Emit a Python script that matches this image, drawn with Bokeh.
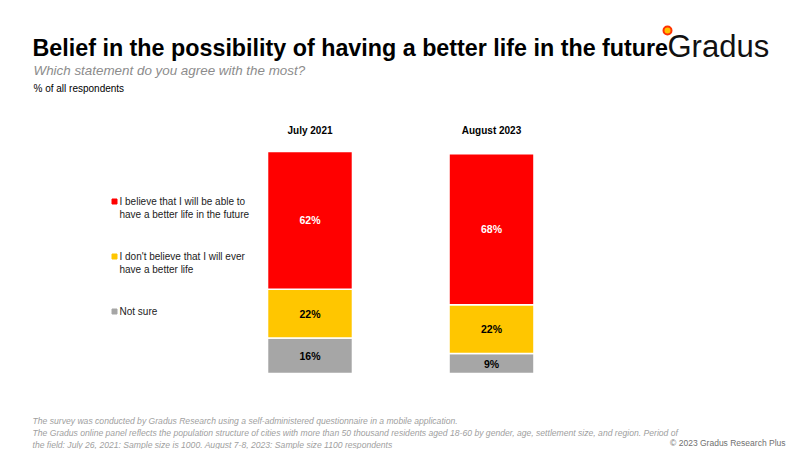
from bokeh.core.properties import value
from bokeh.embed import file_html
from bokeh.models import ColumnDataSource, Label, Range1d
from bokeh.plotting import figure
from bokeh.resources import INLINE

periods = ["July 2021", "August 2023"]
answers = [
    "I believe that I will be able to have a better life in the future",
    "I don't believe that I will ever have a better life",
    "Not sure",
]
legend_lines = [
    ["I believe that I will be able to", "have a better life in the future"],
    ["I don't believe that I will ever", "have a better life"],
    ["Not sure"],
]
# stacked from the bottom: not sure, don't believe, believe
not_sure = [16, 9]
dont_believe = [22, 22]
believe = [62, 68]
colors = ["#A6A6A6", "#FFC600", "#FF0000"]

FONT = "Liberation Sans"
W, H = 800, 449

# pixel -> data helpers (bar 0 centre at x 309.5, 181.5 px between bars,
# value 0 at y 373, 2.22 px per percent)
XU, X0 = 181.5, 309.5
YU, Y0 = 2.22, 373


def px(x):
    return (x - X0) / XU


def py(y):
    return (Y0 - y) / YU


p = figure(
    width=W,
    height=H,
    x_range=Range1d(-X0 / XU, (W - X0) / XU),
    y_range=Range1d(-(H - Y0) / YU, Y0 / YU),
    min_border=0,
    outline_line_color=None,
    toolbar_location=None,
    output_backend="svg",
)
p.axis.visible = False
p.grid.visible = False
p.background_fill_color = "white"

xs = list(range(len(periods)))
src = ColumnDataSource(data=dict(x=xs, not_sure=not_sure, dont_believe=dont_believe, believe=believe))
p.vbar_stack(
    ["not_sure", "dont_believe", "believe"],
    x="x",
    width=0.468,
    color=colors,
    line_color="white",
    line_width=1.5,
    source=src,
)

# value labels in the middle of each segment
lx, ly, lt, lc = [], [], [], []
for i in xs:
    base = 0
    for vals, c in zip([not_sure, dont_believe, believe], ["black", "black", "white"]):
        v = vals[i]
        lx.append(i)
        ly.append(base + v / 2)
        lt.append(f"{v}%")
        lc.append(c)
        base += v
p.text(
    x="x", y="y", text="t", text_color="c",
    source=ColumnDataSource(data=dict(x=lx, y=ly, t=lt, c=lc)),
    text_font=value(FONT), text_font_style="bold", text_font_size="10.5px",
    text_align="center", text_baseline="middle",
)

# column headers
p.text(
    x=xs, y=[py(130)] * len(xs), text=periods,
    text_font=value(FONT), text_font_style="bold", text_font_size="10px",
    text_align="center", text_baseline="middle", text_color="black",
)


def label(x, y, text, size, color="black", style="normal", align="left"):
    p.add_layout(Label(
        x=px(x), y=py(y), text=text, text_font=FONT, text_font_size=size,
        text_color=color, text_font_style=style, text_align=align,
        text_baseline="middle",
    ))


label(32, 47, "Belief in the possibility of having a better life in the future", "23.3px", style="bold")
label(33, 70, "Which statement do you agree with the most?", "13.4px", color="#8C8C8C", style="italic")
label(33, 88, "% of all respondents", "10px")

# logo
label(667, 46, "Gradus", "31px", color="#111111")
p.scatter(x=[px(667)], y=[py(30)], size=8, fill_color="#FFC000", line_color="#FF3300", line_width=2)

# legend
legend_y = [201, 256, 311]
for lines, c, y in zip(legend_lines, reversed(colors), legend_y):
    p.scatter(x=[px(114)], y=[py(y)], marker="square", size=5, color=c)
    for k, line in enumerate(lines):
        label(119, y + k * 12.5, line, "10px", color="#222222")

# footnote
notes = [
    "The survey was conducted by Gradus Research using a self-administered questionnaire in a mobile application.",
    "The Gradus online panel reflects the population structure of cities with more than 50 thousand residents aged 18-60 by gender, age, settlement size, and region. Period of",
    "the field: July 26, 2021: Sample size is 1000. August 7-8, 2023: Sample size 1100 respondents",
]
for k, line in enumerate(notes):
    label(32, 420 + k * 12, line, "8.6px", color="#A0A0A0", style="italic")
label(785, 442, "\u00a9 2023 Gradus Research Plus", "8.5px", color="#707070", align="right")

open("out.html", "w").write(file_html(p, INLINE))
